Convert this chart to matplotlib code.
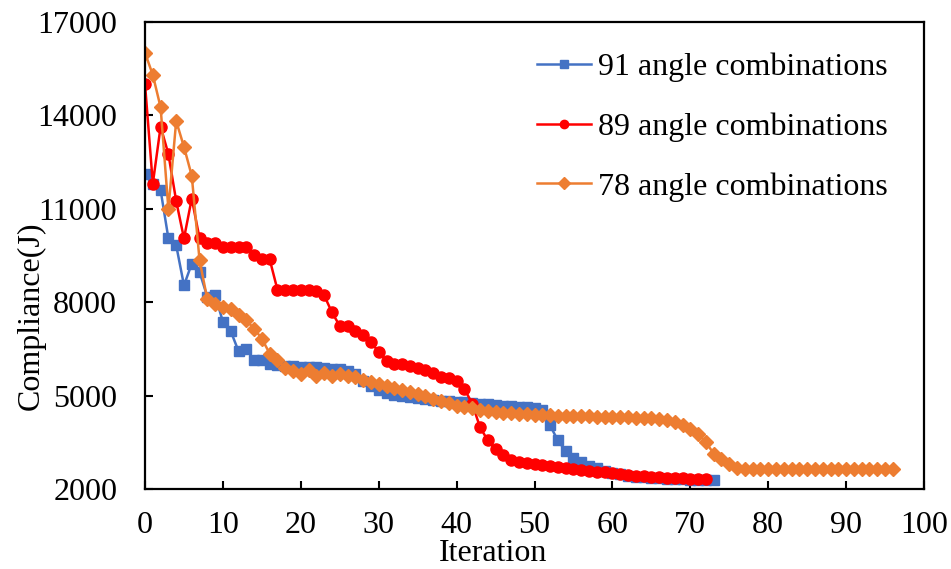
import matplotlib
matplotlib.use("Agg")
import matplotlib.pyplot as plt

# compliance per iteration
comp_91 = [12110, 11800, 11600, 10050, 9830, 8540, 9240, 8970, 8170, 8220,
           7370, 7070, 6430, 6510, 6130, 6130, 6000, 5990, 5960, 5950,
           5930, 5920, 5910, 5890, 5870, 5840, 5790, 5680, 5470, 5300,
           5170, 5080, 5030, 4990, 4960, 4930, 4900, 4870, 4840, 4820,
           4800, 4780, 4760, 4740, 4720, 4700, 4680, 4660, 4640, 4620,
           4590, 4550, 4040, 3560, 3220, 3010, 2870, 2750, 2660, 2580,
           2520, 2470, 2430, 2400, 2380, 2360, 2340, 2330, 2320, 2310,
           2300, 2300, 2290, 2290]
comp_89 = [15000, 11810, 13640, 12760, 11250, 10050, 11330, 10050, 9890, 9890,
           9780, 9780, 9780, 9770, 9510, 9380, 9380, 8400, 8400, 8400,
           8400, 8390, 8370, 8220, 7670, 7240, 7240, 7080, 6960, 6720,
           6400, 6110, 6010, 6000, 5940, 5880, 5830, 5730, 5600, 5580,
           5460, 5220, 4740, 3990, 3560, 3270, 3100, 2940, 2880, 2830,
           2810, 2780, 2740, 2710, 2680, 2650, 2620, 2590, 2560, 2530,
           2500, 2480, 2450, 2430, 2410, 2390, 2370, 2360, 2350, 2340,
           2330, 2320, 2320]
comp_78 = [16010, 15300, 14260, 10990, 13820, 12990, 12060, 9350, 8090, 7950,
           7850, 7790, 7580, 7420, 7150, 6830, 6350, 6130, 5900, 5800,
           5700, 5820, 5640, 5730, 5620, 5680, 5620, 5600, 5500, 5440,
           5380, 5310, 5240, 5180, 5120, 5050, 4980, 4900, 4830, 4760,
           4680, 4630, 4590, 4550, 4510, 4480, 4450, 4430, 4420, 4400,
           4390, 4380, 4370, 4360, 4350, 4340, 4340, 4330, 4320, 4320,
           4310, 4300, 4300, 4290, 4280, 4270, 4250, 4220, 4150, 4060,
           3940, 3780, 3500, 3140, 2960, 2810, 2690, 2650, 2650, 2650,
           2650, 2650, 2650, 2650, 2650, 2650, 2650, 2650, 2650, 2650,
           2650, 2650, 2650, 2650, 2650, 2650, 2650]
labels = ["91 angle combinations", "89 angle combinations", "78 angle combinations"]

plt.rcParams['font.family'] = ['Liberation Serif', 'DejaVu Serif']
fs = 23

fig = plt.figure(figsize=(9.51, 5.69), dpi=100)
ax = fig.add_axes([0.1525, 0.1406, 0.8191, 0.8207])

ax.plot(range(len(comp_91)), comp_91, color='#4472C4', marker='s', ms=7.5,
        lw=1.8, label=labels[0])
ax.plot(range(len(comp_89)), comp_89, color='#FF0000', marker='o', ms=8,
        lw=1.8, label=labels[1])
ax.plot(range(len(comp_78)), comp_78, color='#ED7D31', marker='D', ms=7.5,
        lw=1.8, label=labels[2])

ax.set_xlim(0, 100)
ax.set_ylim(2000, 17000)
ax.set_xticks(range(0, 101, 10))
ax.set_yticks(range(2000, 17001, 3000))
ax.tick_params(direction='in', length=6, width=1.5, labelsize=fs)
ax.tick_params(axis='x', pad=16)
ax.tick_params(axis='y', pad=20)
for s in ax.spines.values():
    s.set_linewidth(1.6)

ax.set_xlabel("Iteration", fontsize=fs)
ax.set_ylabel("Compliance(J)", fontsize=fs)
ax.xaxis.set_label_coords(0.447, -0.108)
ax.yaxis.set_label_coords(-0.128, 0.37)

leg = ax.legend(loc='upper right', bbox_to_anchor=(0.953, 0.935), frameon=False,
                fontsize=fs, handlelength=1.7, handletextpad=0.2,
                labelspacing=0.95, markerscale=0.75, borderaxespad=0, borderpad=0)

fig.savefig("out.png", dpi=100)
